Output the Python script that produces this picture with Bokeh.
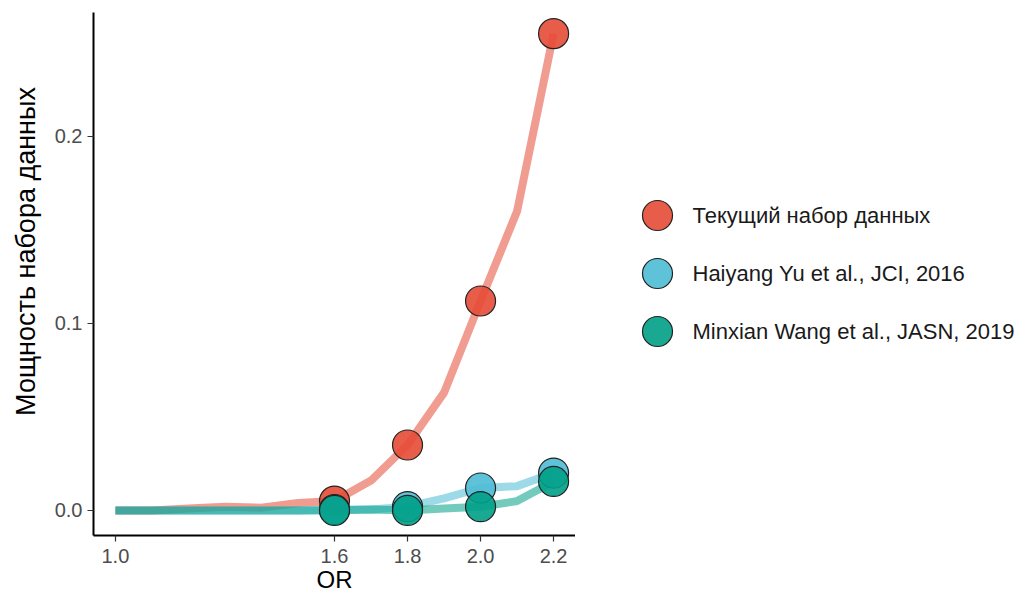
import math
from bokeh.plotting import figure
from bokeh.models import FixedTicker, NumeralTickFormatter, Range1d, ColumnDataSource
from bokeh.layouts import row
from bokeh.embed import file_html
from bokeh.resources import INLINE
from bokeh.core.properties import value

# Odds ratio grid for the power curves
or_grid = [1.0, 1.1, 1.2, 1.3, 1.4, 1.5, 1.6, 1.7, 1.8, 1.9, 2.0, 2.1, 2.2]
power_current = [0.0, 0.0, 0.001, 0.002, 0.0015, 0.004, 0.005, 0.016, 0.035, 0.063, 0.112, 0.160, 0.255]
power_yu = [0.0, 0.0, 0.0, 0.0, 0.0, 0.0, 0.0005, 0.0005, 0.002, 0.0065, 0.012, 0.013, 0.020]
power_wang = [0.0, 0.0, 0.0, 0.0, 0.0, 0.0, 0.0, 0.0005, 0.0, 0.001, 0.002, 0.005, 0.0155]

# Highlighted points
or_points = [1.6, 1.8, 2.0, 2.2]
pts_current = [0.005, 0.035, 0.112, 0.255]
pts_yu = [0.0005, 0.002, 0.012, 0.020]
pts_wang = [0.0, 0.0, 0.002, 0.0155]

series_names = ["Текущий набор данных", "Haiyang Yu et al., JCI, 2016", "Minxian Wang et al., JASN, 2019"]
series_colors = ["#E64B35", "#4DBBD5", "#00A087"]
x_ticks = [1.0, 1.6, 1.8, 2.0, 2.2]
y_ticks = [0.0, 0.1, 0.2]
y_title = "Мощность набора данных"

FONT = "Liberation Sans"

# Narrow strip holding the rotated y-axis title
ttl = figure(
    frame_width=45, frame_height=597, x_range=Range1d(0, 45), y_range=Range1d(609, 12),
    x_axis_type=None, y_axis_type=None,
    output_backend="svg", toolbar_location=None, min_border=0,
    background_fill_color="white", border_fill_color="white",
)
ttl.outline_line_color = None
ttl.grid.visible = False
ttl.text(x=[25], y=[251], text=[y_title], angle=math.pi / 2,
         text_font=value(FONT), text_font_size="27px", text_color="black",
         text_align="center", text_baseline="middle")

# Main plot
p = figure(
    frame_width=482, frame_height=523,
    min_border_left=48, min_border_right=0, min_border_top=12, min_border_bottom=62,
    x_range=Range1d(0.94, 2.26), y_range=Range1d(-0.0134, 0.2663),
    output_backend="svg", toolbar_location=None,
    background_fill_color="white", border_fill_color="white",
)
p.outline_line_color = None
p.grid.visible = False

curves = [power_current, power_yu, power_wang]
points = [pts_current, pts_yu, pts_wang]

for ys, col in zip(curves, series_colors):
    p.line(or_grid, ys, line_color=col, line_width=8, line_alpha=0.55)

for ys, col in zip(points, series_colors):
    p.scatter(or_points, ys, size=30, fill_color=col, fill_alpha=0.9,
              line_color="#222222", line_width=1.2)

for ax in (p.xaxis[0], p.yaxis[0]):
    ax.axis_line_color = "black"
    ax.axis_line_width = 2
    ax.major_tick_line_color = "#333333"
    ax.major_tick_line_width = 1.2
    ax.major_tick_out = 6
    ax.major_tick_in = 0
    ax.minor_tick_line_color = None
    ax.major_label_text_font = FONT
    ax.major_label_text_font_size = "20px"
    ax.major_label_text_color = "#4D4D4D"
    ax.axis_label_text_font = FONT
    ax.axis_label_text_font_style = "normal"
    ax.axis_label_text_font_size = "24px"
    ax.axis_label_text_color = "black"

p.xaxis.ticker = FixedTicker(ticks=x_ticks)
p.xaxis.formatter = NumeralTickFormatter(format="0.0")
p.xaxis.axis_label = "OR"
p.xaxis.major_label_standoff = 7
p.xaxis.axis_label_standoff = 0

p.yaxis.ticker = FixedTicker(ticks=y_ticks)
p.yaxis.formatter = NumeralTickFormatter(format="0.0")
p.yaxis.major_label_standoff = 5

# Legend panel
leg = figure(
    frame_width=460, frame_height=597, x_range=Range1d(0, 460), y_range=Range1d(609, 12),
    x_axis_type=None, y_axis_type=None,
    output_backend="svg", toolbar_location=None, min_border=0,
    background_fill_color="white", border_fill_color="white",
)
leg.outline_line_color = None
leg.grid.visible = False

leg_y = [215, 273, 331]
leg_src = ColumnDataSource(dict(x=[82, 82, 82], y=leg_y, c=series_colors, t=series_names,
                                tx=[117, 117, 117]))
leg.scatter("x", "y", source=leg_src, size=30, fill_color="c", fill_alpha=0.9,
            line_color="#222222", line_width=1.2)
leg.text("tx", "y", text="t", source=leg_src, text_font=value(FONT), text_font_size="22px",
         text_color="#1a1a1a", text_baseline="middle", text_align="left")

layout = row(ttl, p, leg, spacing=0)
open("out.html", "w").write(file_html(layout, INLINE))
